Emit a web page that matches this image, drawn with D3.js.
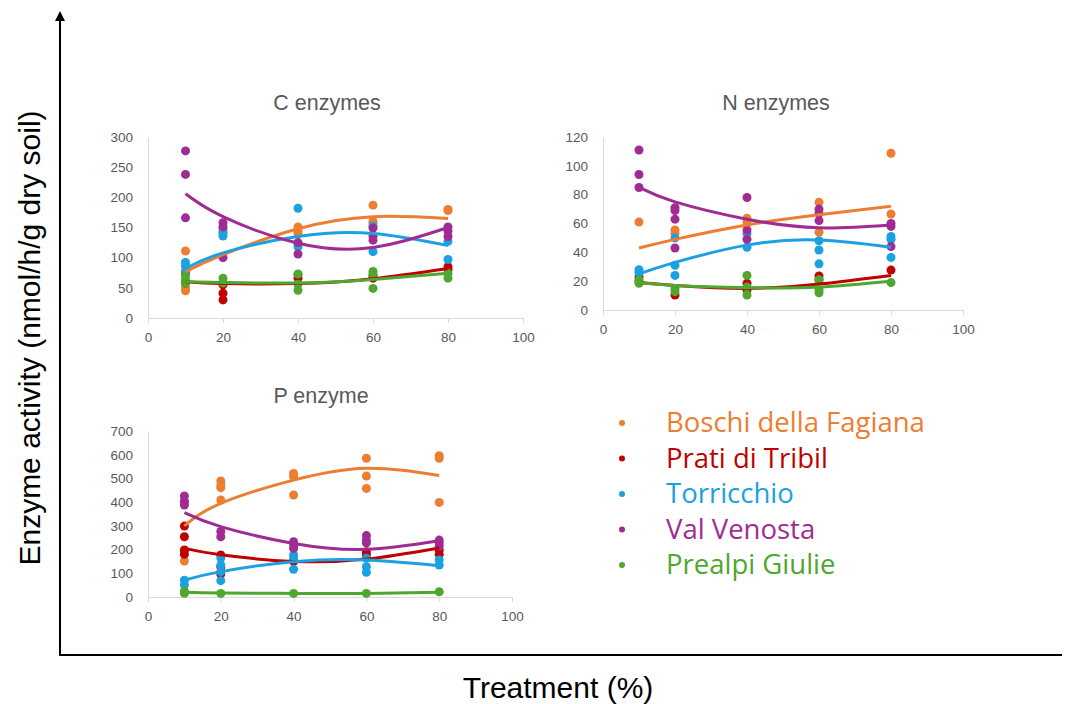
<!DOCTYPE html>
<html>
<head>
<meta charset="utf-8">
<script src="https://cdn.jsdelivr.net/npm/d3@7"></script>
<style>
  body { margin: 0; background: #fff; }
  svg text { font-family: "Liberation Sans", Arial, sans-serif; }
  svg .legend text { font-family: "Open Sans", "Noto Sans", sans-serif; }
</style>
</head>
<body>
<svg id="chart" width="1067" height="704"></svg>
<script>
// sites and colours
const sites = ['Boschi della Fagiana', 'Prati di Tribil', 'Torricchio', 'Val Venosta', 'Prealpi Giulie'];
const colors = ['#ED7D31', '#C00000', '#1BA1E2', '#A02B93', '#4EA72E'];
const treatments = [10, 20, 40, 60, 80];
const xTicks = [0, 20, 40, 60, 80, 100];

// replicate points, per site, per treatment
const cPoints = [
  [[111, 50, 45], [140, 148], [151, 145, 140], [187, 157, 160], [180, 178]],
  [[75, 58], [41, 30, 55], [66, 72], [70, 66], [85, 80]],
  [[92, 86, 78], [143, 136], [182, 124, 118], [152, 110], [127, 97]],
  [[277, 238, 166], [158, 151, 100], [125, 106], [149, 135, 129], [151, 144, 135]],
  [[70, 63, 58], [66, 58], [73, 56, 46], [77, 73, 49], [74, 66]]
];
const nPoints = [
  [[61], [55.5, 53], [63.6, 61], [74.7, 54], [108.7, 66.6]],
  [[23, 20], [10.4], [18.5, 14], [23.6, 21], [27.7]],
  [[28, 26], [50, 31, 24], [53, 43.5], [48, 41.6, 32], [51, 49, 36.5]],
  [[111, 94, 85], [71, 69, 63, 43], [78, 55.5, 49], [70, 67, 62], [60, 58, 44]],
  [[21, 18.5], [15, 12.7], [24, 16, 10.4], [21, 14, 12], [19]]
];
const pPoints = [
  [[400, 195, 152], [489, 472, 461, 409], [521, 507, 430], [585, 510, 458], [596, 585, 399]],
  [[299, 254, 198, 180], [177, 128, 97], [150], [191, 177], [198, 180]],
  [[71, 51], [164, 135, 107, 69], [177, 163, 117], [163, 128, 104], [156, 135]],
  [[426, 405, 388], [276, 254], [233, 219, 205], [259, 240, 228], [240, 228, 214]],
  [[25, 16], [15], [15], [15], [22]]
];

// trend line values read at each treatment
const cTrend = [
  [77, 105, 148, 168, 165],
  [60, 57, 57, 65, 82],
  [82, 108, 135, 140, 120],
  [206, 168, 124, 117, 150],
  [60, 59, 58, 64, 74]
];
const nTrend = [
  [43, 49, 59, 66, 72],
  [19, 17, 15, 18, 24],
  [25, 33, 45, 48.5, 43.5],
  [85, 75, 63, 57, 59],
  [19, 17, 15.5, 16, 20]
];
const pTrend = [
  [300, 395, 493, 543, 512],
  [205, 178, 150, 160, 207],
  [71, 107, 149, 156, 132],
  [356, 297, 226, 201, 237],
  [20, 17, 15, 15, 20]
];

const cTicks = [0, 50, 100, 150, 200, 250, 300];
const nTicks = [0, 20, 40, 60, 80, 100, 120];
const pTicks = [0, 100, 200, 300, 400, 500, 600, 700];

const panels = [
  { title: 'C enzymes', pts: cPoints, trend: cTrend, yTicks: cTicks, x0: 148, x1: 523, y0: 318, y1: 137, tx: 327, ty: 110 },
  { title: 'N enzymes', pts: nPoints, trend: nTrend, yTicks: nTicks, x0: 603, x1: 963, y0: 310, y1: 137, tx: 776, ty: 110 },
  { title: 'P enzyme', pts: pPoints, trend: pTrend, yTicks: pTicks, x0: 148, x1: 512, y0: 597, y1: 431, tx: 321, ty: 403 }
];

const svg = d3.select('#chart');

panels.forEach(p => {
  const x = d3.scaleLinear().domain([0, 100]).range([p.x0, p.x1]);
  const y = d3.scaleLinear().domain([0, d3.max(p.yTicks)]).range([p.y0, p.y1]);
  const g = svg.append('g');

  g.append('text')
    .attr('x', p.tx).attr('y', p.ty)
    .attr('text-anchor', 'middle')
    .attr('font-size', 21.5)
    .attr('fill', '#595959')
    .text(p.title);

  const xAxis = g.append('g')
    .attr('transform', `translate(0,${p.y0})`)
    .call(d3.axisBottom(x).tickValues(xTicks).tickSize(5).tickPadding(9));
  xAxis.select('.domain').attr('stroke', '#D9D9D9');
  xAxis.selectAll('line').attr('stroke', '#D9D9D9');
  xAxis.selectAll('text').attr('font-size', 13.5).attr('fill', '#595959');

  const yAxis = g.append('g')
    .attr('transform', `translate(${p.x0},0)`)
    .call(d3.axisLeft(y).tickValues(p.yTicks).tickSize(0).tickPadding(15));
  yAxis.select('.domain').attr('stroke', '#D9D9D9');
  yAxis.selectAll('text').attr('font-size', 13.5).attr('fill', '#595959');

  // points
  p.pts.forEach((site, si) => {
    const flat = [];
    site.forEach((vals, ti) => vals.forEach(v => flat.push([treatments[ti], v])));
    g.selectAll(null)
      .data(flat)
      .enter()
      .append('circle')
      .attr('cx', d => x(d[0]))
      .attr('cy', d => y(d[1]))
      .attr('r', 4.5)
      .attr('fill', colors[si]);
  });

  // trend lines
  const line = d3.line()
    .x(d => x(d[0]))
    .y(d => y(d[1]))
    .curve(d3.curveNatural);
  p.trend.forEach((vals, si) => {
    g.append('path')
      .datum(vals.map((v, i) => [treatments[i], v]))
      .attr('d', line)
      .attr('fill', 'none')
      .attr('stroke', colors[si])
      .attr('stroke-width', 3);
  });
});

// legend
const legend = svg.append('g').attr('class', 'legend');
sites.forEach((s, i) => {
  const ly = 423 + i * 35.5;
  legend.append('circle')
    .attr('cx', 622).attr('cy', ly)
    .attr('r', 3)
    .attr('fill', colors[i]);
  legend.append('text')
    .attr('x', 666).attr('y', ly + 9)
    .attr('font-size', 27.5)
    .attr('fill', colors[i])
    .text(s);
});

// outer axes
svg.append('defs').append('marker')
  .attr('id', 'arrow')
  .attr('viewBox', '0 0 10 10')
  .attr('refX', 5).attr('refY', 5)
  .attr('markerWidth', 5).attr('markerHeight', 5)
  .attr('orient', 'auto')
  .append('path')
  .attr('d', 'M0,0L10,5L0,10z')
  .attr('fill', '#000');

svg.append('line')
  .attr('x1', 60).attr('y1', 655)
  .attr('x2', 60).attr('y2', 16)
  .attr('stroke', '#000').attr('stroke-width', 2)
  .attr('marker-end', 'url(#arrow)');
svg.append('line')
  .attr('x1', 59).attr('y1', 655)
  .attr('x2', 1062).attr('y2', 655)
  .attr('stroke', '#000').attr('stroke-width', 2);

svg.append('text')
  .attr('transform', 'translate(40,338) rotate(-90)')
  .attr('text-anchor', 'middle')
  .attr('font-size', 30)
  .attr('fill', '#000')
  .text('Enzyme activity (nmol/h/g dry soil)');

svg.append('text')
  .attr('x', 558).attr('y', 698)
  .attr('text-anchor', 'middle')
  .attr('font-size', 30)
  .attr('fill', '#000')
  .text('Treatment (%)');
</script>
</body>
</html>
